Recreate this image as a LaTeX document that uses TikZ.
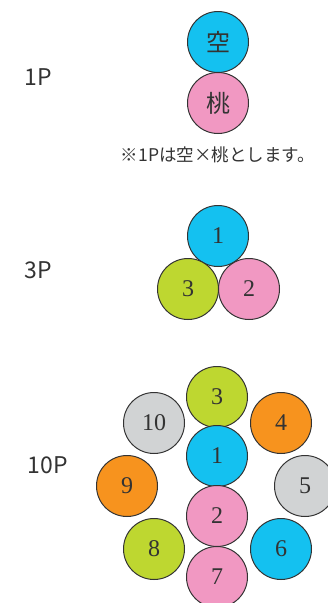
\documentclass[tikz,border=0pt]{standalone}
\usepackage{fontspec}
\newfontfamily\jpfont{Noto Sans CJK JP}
\newfontfamily\numfont{Liberation Serif}
\definecolor{cy}{RGB}{20,193,240}
\definecolor{pk}{RGB}{241,152,194}
\definecolor{gr}{RGB}{190,215,48}
\definecolor{og}{RGB}{247,147,30}
\definecolor{gy}{RGB}{209,211,212}
\definecolor{ink}{RGB}{51,51,51}
\begin{document}
\begin{tikzpicture}[x=1pt,y=-1pt,
  ball/.style={circle,draw=ink,line width=1pt,minimum size=61pt,inner sep=0pt,text=ink,font=\numfont\fontsize{24}{24}\selectfont},
  kball/.style={ball,font=\jpfont\fontsize{24}{24}\selectfont},
  lab/.style={font=\jpfont\fontsize{23}{23}\selectfont,text=ink},
  note/.style={font=\jpfont\fontsize{17.5}{17.5}\selectfont,text=ink}]
\useasboundingbox (0,0) rectangle (328,603);
\clip (0,0) rectangle (328,603);
% 1P
\node[lab] (l1) at (38,77) {1P};
\node[kball,fill=cy] (sora) at (218,42) {空};
\node[kball,fill=pk] (momo) at (218,103) {桃};
\node[note] (nt) at (218,155) {※1Pは空×桃とします。};
% 3P
\node[lab] (l3) at (38,270) {3P};
\node[ball,fill=cy] (a1) at (218,236) {1};
\node[ball,fill=pk] (a2) at (249,289) {2};
\node[ball,fill=gr] (a3) at (188,289) {3};
% 10P
\node[lab] (l10) at (48,465) {10P};
\node[ball,fill=gr] (b3) at (217,397) {3};
\node[ball,fill=cy] (b1) at (217,456) {1};
\node[ball,fill=pk] (b2) at (217,516) {2};
\node[ball,fill=pk] (b7) at (217,577) {7};
\node[ball,fill=gy] (b10) at (154,423) {10};
\node[ball,fill=og] (b4) at (281,423) {4};
\node[ball,fill=og] (b9) at (127,486) {9};
\node[ball,fill=gy] (b5) at (305,486) {5};
\node[ball,fill=gr] (b8) at (154,549) {8};
\node[ball,fill=cy] (b6) at (281,549) {6};
\end{tikzpicture}
\end{document}
